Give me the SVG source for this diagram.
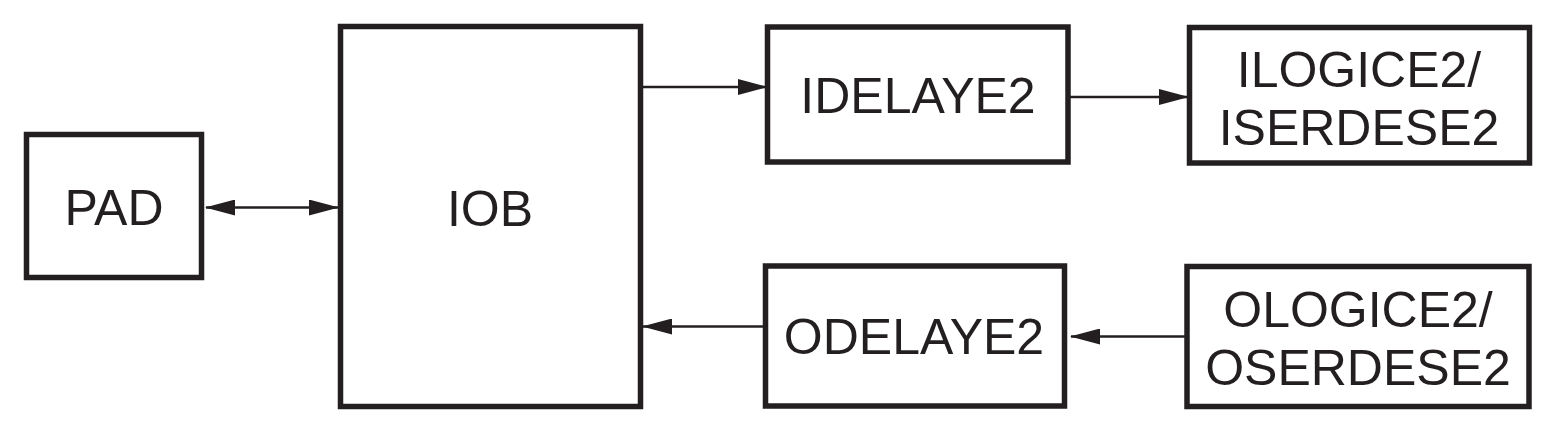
<svg xmlns="http://www.w3.org/2000/svg" width="1550" height="426" viewBox="0 0 1550 426">
<style>
.box{fill:#fff;stroke:#231f20;stroke-width:5.5}
.t{font-family:"Liberation Sans",Arial,sans-serif;font-size:50px;fill:#231f20;text-anchor:middle}
.c{stroke:#231f20;stroke-width:2.5;fill:none}
</style>
<defs>
<marker id="ah" viewBox="0 0 30 16" refX="29" refY="8" markerWidth="30" markerHeight="16" markerUnits="userSpaceOnUse" orient="auto-start-reverse">
<path d="M0,0 L30,8 L0,16 Z" fill="#231f20"/>
</marker>
</defs>
<g id="connectors">
<line class="c" x1="206" y1="207.5" x2="338" y2="207.5" marker-start="url(#ah)" marker-end="url(#ah)"/>
<line class="c" x1="643" y1="87" x2="767" y2="87" marker-end="url(#ah)"/>
<line class="c" x1="1070" y1="97" x2="1188" y2="97" marker-end="url(#ah)"/>
<line class="c" x1="765" y1="326.5" x2="643" y2="326.5" marker-end="url(#ah)"/>
<line class="c" x1="1186" y1="336.5" x2="1071" y2="336.5" marker-end="url(#ah)"/>
</g>
<g id="pad">
<rect class="box" x="26.5" y="134.5" width="175" height="143"/>
<text class="t" x="114" y="225">PAD</text>
</g>
<g id="iob">
<rect class="box" x="340.5" y="26.5" width="300" height="380"/>
<text class="t" x="490" y="226">IOB</text>
</g>
<g id="idelaye2">
<rect class="box" x="767.5" y="27" width="300.5" height="135"/>
<text class="t" x="918" y="113">IDELAYE2</text>
</g>
<g id="ilogice2">
<rect class="box" x="1189.5" y="27.5" width="340" height="135.5"/>
<text class="t" x="1359" y="87">ILOGICE2/</text>
<text class="t" x="1359" y="145">ISERDESE2</text>
</g>
<g id="odelaye2">
<rect class="box" x="765.5" y="266" width="299" height="140"/>
<text class="t" x="914" y="354">ODELAYE2</text>
</g>
<g id="ologice2">
<rect class="box" x="1187" y="266.5" width="342" height="140"/>
<text class="t" x="1358" y="327">OLOGICE2/</text>
<text class="t" x="1358" y="385">OSERDESE2</text>
</g>
</svg>
